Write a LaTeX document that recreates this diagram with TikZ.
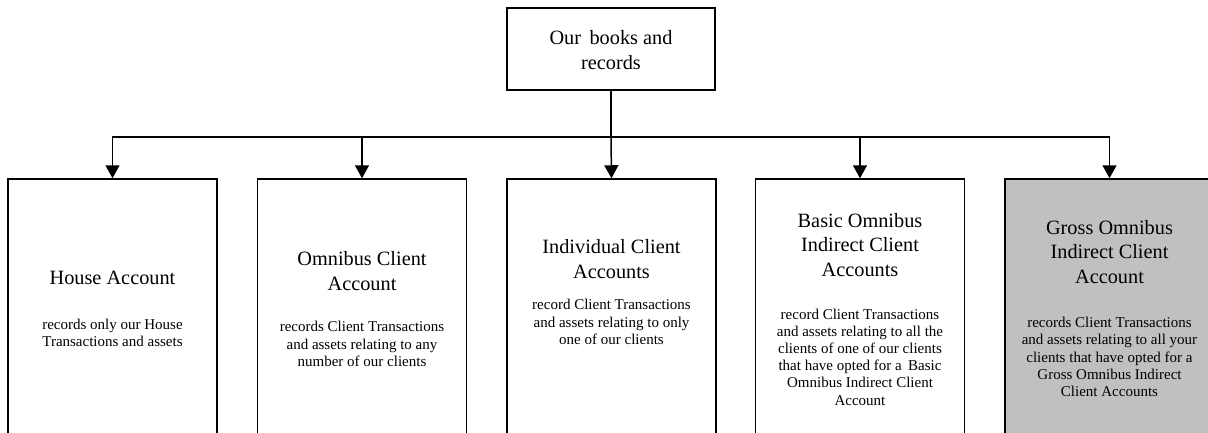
\documentclass[tikz,border=0pt]{standalone}
\usepackage{fontspec}
\setmainfont{Liberation Serif}
\usetikzlibrary{arrows.meta}
\definecolor{boxgray}{RGB}{192,192,192}
\begin{document}
\begin{tikzpicture}[x=1pt,y=-1pt,
  box/.style={draw=black, line width=1.5pt, rectangle, inner sep=0pt, minimum width=209pt, minimum height=266pt},
  topbox/.style={draw=black, line width=1.5pt, rectangle, inner sep=0pt, minimum width=208pt, minimum height=82pt},
  ttl/.style={inner sep=0pt, align=center, font=\fontsize{20.3}{24.5}\selectfont},
  bdy/.style={inner sep=0pt, align=center, font=\fontsize{15}{17.2}\selectfont},
  arr/.style={line width=1.5pt, -{Triangle[length=13pt,width=14pt]}},
  ln/.style={line width=1.5pt}]
\useasboundingbox (0,0) rectangle (1208,432);
\clip (0,0) rectangle (1208,432);
\node[topbox] (top) at (611,49) {};
\node[ttl] (toptxt) at (611,50) {Our\, books and\\records};
\node[box] (b1) at (112.5,312) {};
\node[box] (b2) at (362,312) {};
\node[box] (b3) at (611.5,312) {};
\node[box] (b4) at (860,312) {};
\node[box, fill=boxgray] (b5) at (1109.5,312) {};
\coordinate (bus) at (611,137);
\draw[ln] (top.south) -- (bus);
\draw[arr] (bus) -- (b3.north);
\draw[arr] (bus) -| (b1.north);
\draw[arr] (bus) -| (b2.north);
\draw[arr] (bus) -| (b4.north);
\draw[arr] (bus) -| (b5.north);
\node[ttl] (t1) at (112.5,278) {House Account};
\node[bdy] (d1) at (112.5,333) {records only our House\\Transactions and assets};
\node[ttl] (t2) at (362,271) {Omnibus Client\\Account};
\node[bdy] (d2) at (362,344) {records Client Transactions\\and assets relating to any\\number of our clients};
\node[ttl] (t3) at (611.5,259) {Individual Client\\Accounts};
\node[bdy] (d3) at (611.5,322) {record Client Transactions\\and assets relating to only\\one of our clients};
\node[ttl] (t4) at (860,245) {Basic Omnibus\\Indirect Client\\Accounts};
\node[bdy] (d4) at (860,357) {record Client Transactions\\and assets relating to all the\\clients of one of our clients\\that have opted for a\, Basic\\Omnibus Indirect Client\\Account};
\node[ttl] (t5) at (1109.5,252) {Gross Omnibus\\Indirect Client\\Account};
\node[bdy] (d5) at (1109.5,357) {records Client Transactions\\and assets relating to all your\\clients that have opted for a\\Gross Omnibus Indirect\\Client Accounts};
\end{tikzpicture}
\end{document}
